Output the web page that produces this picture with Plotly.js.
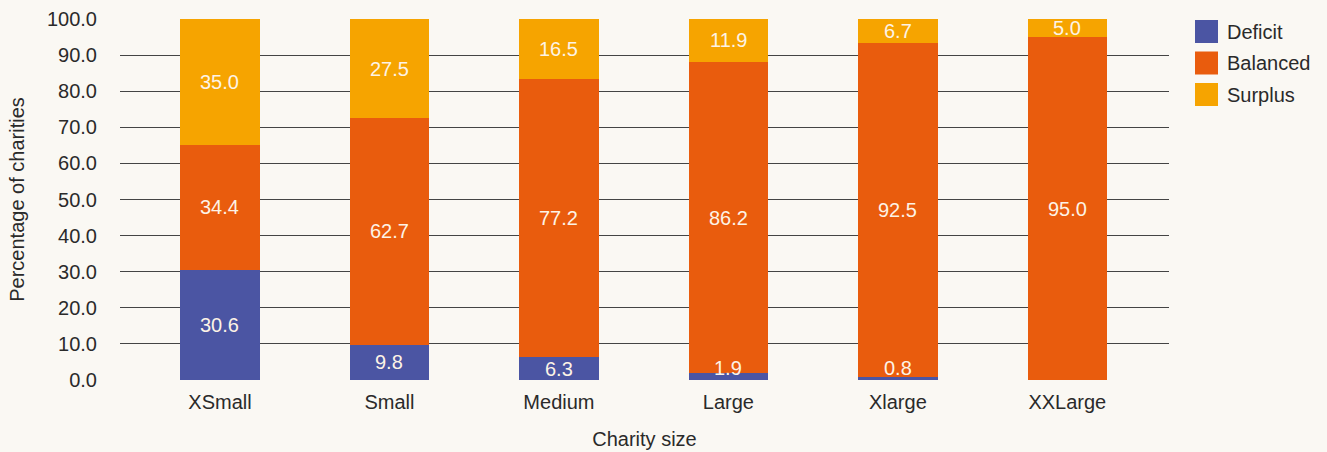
<!DOCTYPE html>
<html>
<head>
<meta charset="utf-8">
<script src="https://cdn.plot.ly/plotly-3.0.1.min.js"></script>
<style>
  html, body { margin: 0; padding: 0; background: #faf8f3; }
  #chart { width: 1327px; height: 452px; }
</style>
</head>
<body>
<div id="chart"></div>
<script>
// Share of charities by financial position, per charity size
const categories = ['XSmall', 'Small', 'Medium', 'Large', 'Xlarge', 'XXLarge'];
const seriesNames = ['Deficit', 'Balanced', 'Surplus'];
const deficit  = [30.6, 9.8, 6.3, 1.9, 0.8, 0.0];
const balanced = [34.4, 62.7, 77.2, 86.2, 92.5, 95.0];
const surplus  = [35.0, 27.5, 16.5, 11.9, 6.7, 5.0];
const yTickVals = [0, 10, 20, 30, 40, 50, 60, 70, 80, 90, 100];

const colors = ['#4b55a3', '#e95c0d', '#f6a400'];
const seriesValues = [deficit, balanced, surplus];
const FONT = 'Liberation Sans, Arial, sans-serif';
const FS = 20;
const TEXT = '#2a2a2a';
const LABEL = '#fdf3e6';

const traces = seriesValues.map((vals, i) => ({
  type: 'bar',
  name: seriesNames[i],
  x: categories,
  y: vals,
  width: 0.47,
  marker: { color: colors[i], line: { width: 0 } },
  hoverinfo: 'x+y+name',
  showlegend: false
}));

// Value labels centred in each stacked segment; a segment too short for
// its label gets the label sitting on the segment's base instead.
const valueLabels = [];
const base = categories.map(() => 0);
seriesValues.forEach(vals => {
  vals.forEach((v, j) => {
    if (v > 0) {
      const small = v < 4.5;
      valueLabels.push({
        xref: 'x', yref: 'y',
        x: categories[j],
        y: small ? base[j] : base[j] + v / 2,
        yanchor: small ? 'bottom' : 'middle',
        xanchor: 'center',
        text: v.toFixed(1),
        showarrow: false,
        borderpad: 0,
        font: { family: FONT, size: FS, color: LABEL }
      });
    }
    base[j] += v;
  });
});

// Legend: colour squares with series names, to the right of the plot
const legendShapes = [];
const legendLabels = [];
seriesNames.forEach((name, i) => {
  const top = 20 + i * 31.5;
  legendShapes.push({
    type: 'rect', xref: 'paper', yref: 'paper',
    x0: (1195 - 120) / 1049, x1: (1218 - 120) / 1049,
    y0: 1 - (top - 19) / 361, y1: 1 - (top + 23 - 19) / 361,
    fillcolor: colors[i], line: { width: 0 }
  });
  legendLabels.push({
    xref: 'paper', yref: 'paper',
    x: (1225 - 120) / 1049, y: 1 - (top + 11.5 - 19) / 361,
    xanchor: 'left', yanchor: 'middle',
    text: name, showarrow: false,
    font: { family: FONT, size: FS, color: TEXT }
  });
});

const layout = {
  width: 1327,
  height: 452,
  margin: { l: 120, r: 158, t: 19, b: 72, pad: 0 },
  paper_bgcolor: '#faf8f3',
  plot_bgcolor: '#faf8f3',
  barmode: 'stack',
  showlegend: false,
  font: { family: FONT, size: FS, color: TEXT },
  xaxis: {
    type: 'category',
    range: [-0.59, 5.6],
    showgrid: false,
    showline: false,
    zeroline: false,
    ticks: '',
    ticklabelstandoff: 8,
    tickfont: { family: FONT, size: FS, color: TEXT },
    title: { text: 'Charity size', font: { family: FONT, size: FS, color: TEXT }, standoff: 19 }
  },
  yaxis: {
    range: [0, 100],
    tickvals: yTickVals,
    ticktext: yTickVals.map(v => v.toFixed(1)),
    showgrid: true,
    gridcolor: '#444444',
    gridwidth: 1,
    zeroline: false,
    showline: false,
    ticks: '',
    ticklabelstandoff: 22,
    tickfont: { family: FONT, size: FS, color: TEXT },
    title: { text: 'Percentage of charities', font: { family: FONT, size: FS, color: TEXT }, standoff: 16 }
  },
  shapes: legendShapes,
  annotations: valueLabels.concat(legendLabels)
};

Plotly.newPlot('chart', traces, layout, { displayModeBar: false, staticPlot: true });
</script>
</body>
</html>
